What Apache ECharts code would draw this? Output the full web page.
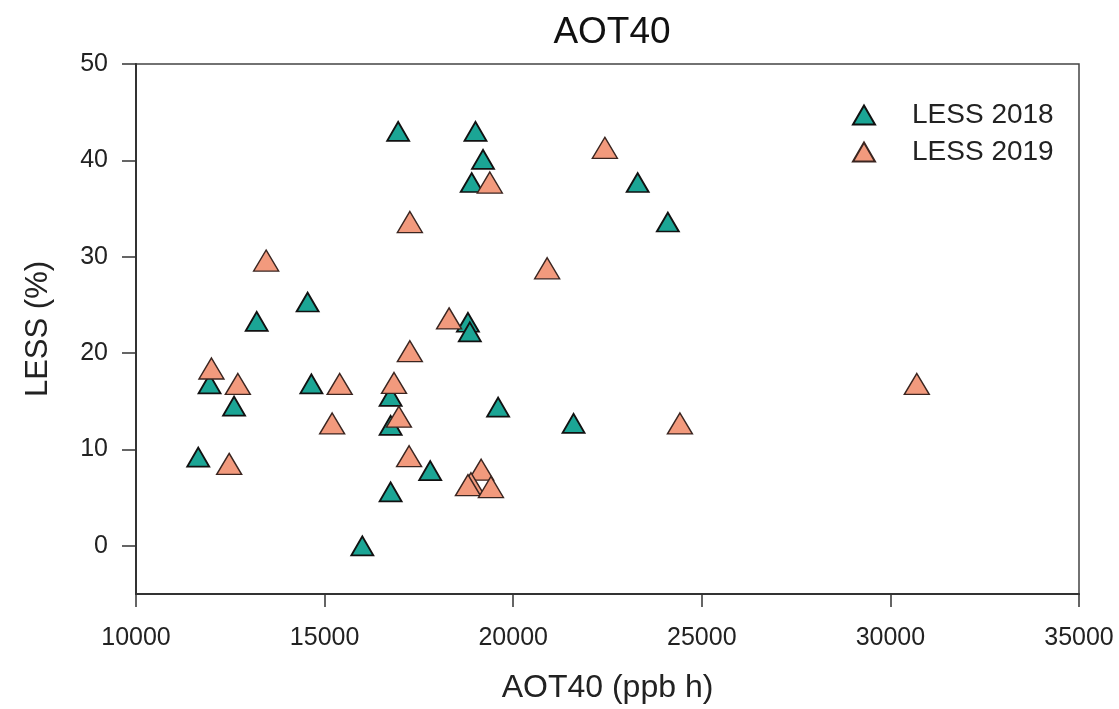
<!DOCTYPE html>
<html>
<head>
<meta charset="utf-8">
<script src="https://cdn.jsdelivr.net/npm/echarts@6/dist/echarts.min.js"></script>
<style>
html,body{margin:0;padding:0;background:#fff;}
#chart{width:1119px;height:709px;}
</style>
</head>
<body>
<div id="chart"></div>
<script>
// Data (x = AOT40 ppb h, y = LESS %)
const less2018 = [
  [16950, 43.0], [19000, 43.0], [19200, 40.1], [18900, 37.7], [23300, 37.7],
  [24100, 33.6], [14550, 25.3], [13200, 23.3], [18800, 23.2], [18850, 22.2],
  [11950, 16.8], [14650, 16.8], [16750, 15.5], [16750, 12.5], [12600, 14.5],
  [19600, 14.4], [21600, 12.7], [11650, 9.2], [17800, 7.8], [16750, 5.6],
  [16000, 0.0]
];
const less2019 = [
  [22430, 41.3], [19380, 37.7], [17260, 33.6], [13450, 29.6], [20900, 28.8],
  [18300, 23.6], [17260, 20.2], [12000, 18.4], [12700, 16.8], [15400, 16.8],
  [16840, 16.9], [30700, 16.8], [16970, 13.4], [15200, 12.7], [24420, 12.7],
  [17240, 9.3], [12470, 8.5], [19150, 7.9], [18880, 6.5], [18800, 6.3],
  [19410, 6.1]
];
const seriesNames = ['LESS 2018', 'LESS 2019'];
const yTickValues = [0, 10, 20, 30, 40, 50];
const titleText = 'AOT40';
const xAxisName = 'AOT40 (ppb h)';
const yAxisName = 'LESS (%)';

const FONT = "'Liberation Sans', Arial, sans-serif";
const chart = echarts.init(document.getElementById('chart'));
chart.setOption({
  backgroundColor: '#ffffff',
  animation: false,
  title: {
    text: titleText,
    left: 607,
    top: 9,
    textAlign: 'center',
    textStyle: { fontFamily: FONT, fontSize: 37, fontWeight: 'normal', color: '#111' }
  },
  legend: {
    orient: 'vertical',
    left: 847,
    top: 96,
    itemWidth: 22,
    itemHeight: 19,
    itemGap: 9,
    icon: 'triangle',
    data: seriesNames,
    textStyle: { fontFamily: FONT, fontSize: 28, color: '#222', padding: [0, 0, 0, 32] }
  },
  grid: {
    left: 136, right: 40, top: 64, bottom: 115,
    show: true, borderColor: '#444', borderWidth: 1.5, backgroundColor: 'transparent'
  },
  xAxis: {
    type: 'value',
    min: 10000, max: 35000, interval: 5000,
    name: xAxisName,
    nameLocation: 'middle',
    nameGap: 78,
    nameTextStyle: { fontFamily: FONT, fontSize: 32, color: '#222' },
    axisLine: { show: true, onZero: false, lineStyle: { color: '#333', width: 2 } },
    axisTick: { show: true, inside: false, length: 13, lineStyle: { color: '#333', width: 1.5 } },
    axisLabel: { fontFamily: FONT, fontSize: 25, color: '#222', margin: 32, formatter: v => String(v) },
    splitLine: { show: false }
  },
  yAxis: {
    type: 'value',
    min: -5, max: 50,
    name: yAxisName,
    nameLocation: 'middle',
    nameGap: 82,
    nameRotate: 90,
    nameTextStyle: { fontFamily: FONT, fontSize: 31, color: '#222' },
    axisLine: { show: true, onZero: false, lineStyle: { color: '#333', width: 2 } },
    axisTick: { show: true, inside: false, length: 14, customValues: yTickValues, lineStyle: { color: '#333', width: 1.5 } },
    axisLabel: { fontFamily: FONT, fontSize: 25, color: '#222', margin: 28, customValues: yTickValues },
    splitLine: { show: false }
  },
  series: [
    {
      name: seriesNames[0],
      type: 'scatter',
      symbol: 'triangle',
      symbolSize: [22, 19],
      data: less2018,
      z: 2,
      itemStyle: { color: '#1ba595', borderColor: '#111', borderWidth: 1.8, opacity: 1 }
    },
    {
      name: seriesNames[1],
      type: 'scatter',
      symbol: 'triangle',
      symbolSize: [25, 21],
      data: less2019,
      z: 3,
      itemStyle: { color: '#f29a7d', borderColor: '#3a2520', borderWidth: 1.4, opacity: 1 }
    }
  ]
});
</script>
</body>
</html>
